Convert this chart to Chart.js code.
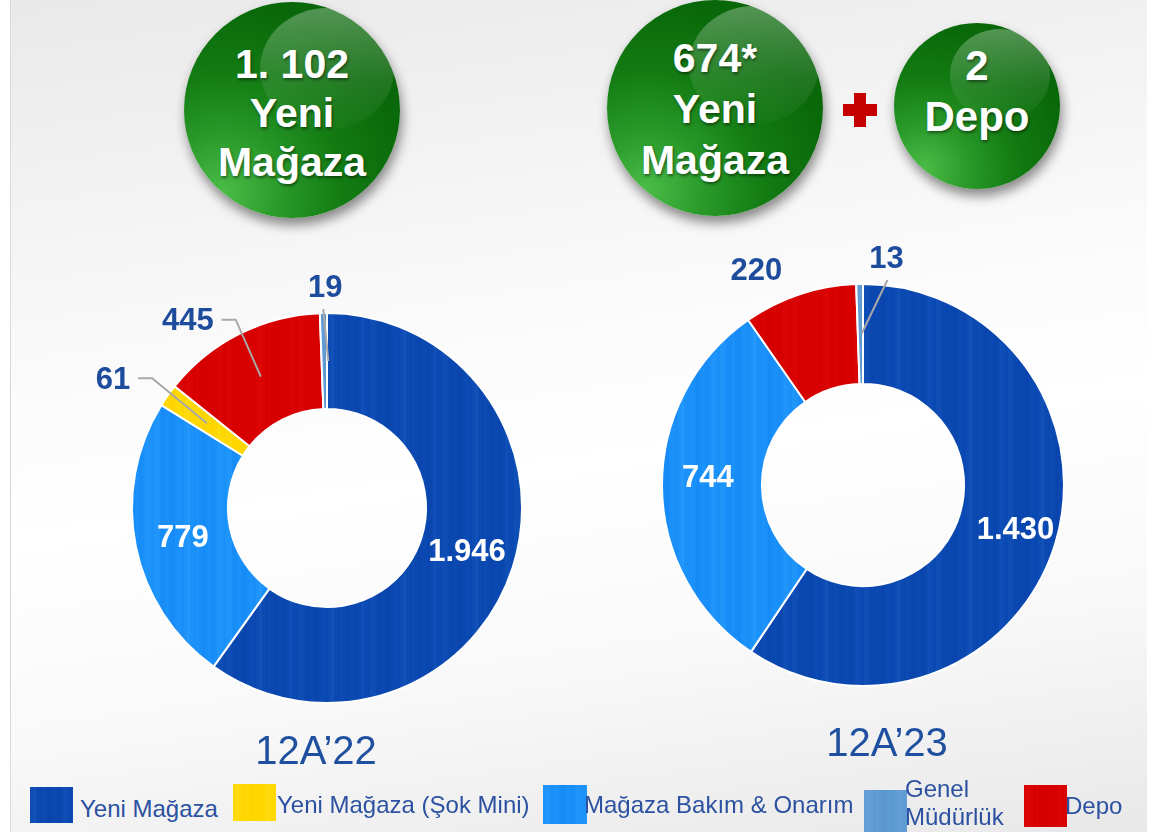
<!DOCTYPE html>
<html lang="tr">
<head>
<meta charset="utf-8">
<title>Yatırımlar 12A'22 - 12A'23</title>
<script src="https://cdn.jsdelivr.net/npm/chart.js@4.4.1/dist/chart.umd.min.js"></script>
<style>
  html, body { margin: 0; padding: 0; background: #fff; }
  body { width: 1158px; height: 832px; position: relative; overflow: hidden;
         font-family: "Liberation Sans", Arial, sans-serif; }
  #slide { position: absolute; left: 10px; top: 0; width: 1136px; height: 832px;
           border-left: 1px solid #d9d9d9;
           background: linear-gradient(172deg, #e9e9e9 0%, #f3f3f3 22%, #fbfbfb 40%, #ffffff 55%, #f9f9f9 75%, #e8e8e8 100%); }
  .bubble { position: absolute; border-radius: 50%;
            background: radial-gradient(circle at 18% 88%, #4cbc48 0%, #2a9a2a 22%, #137c13 45%, #0a6a0a 70%, #085e08 100%);
            box-shadow: 2px 7px 12px rgba(0,0,0,0.45); overflow: hidden; }
  .bubble::before { content: ""; position: absolute; border-radius: 50%;
            left: var(--hl); top: var(--ht); width: var(--hw); height: var(--hh);
            background: linear-gradient(180deg, rgba(255,255,255,0.3) 0%, rgba(255,255,255,0.1) 60%, rgba(255,255,255,0.02) 100%); }
  .bubble .txt { position: absolute; left: 0; right: 0; text-align: center; color: #fff;
            font-weight: bold; font-size: 41px; line-height: 49px;
            text-shadow: 1px 2px 3px rgba(0,0,0,0.45); }
  .plus { position: absolute; background: #c40000; }
  canvas { position: absolute; }
  .period { position: absolute; width: 200px; text-align: center; font-size: 40px;
            color: #1f4f9f; line-height: 46px; }
  .sw { position: absolute; }
  .lt { position: absolute; font-size: 24px; color: #2b51a0; white-space: nowrap; line-height: 28px; }
</style>
</head>
<body>
<div id="slide"></div>

<div class="bubble" style="left:184px;top:2px;width:216px;height:216px;--hl:76px;--ht:6px;--hw:134px;--hh:122px;">
  <div class="txt" style="top:38px;">1. 102<br>Yeni<br>Mağaza</div>
</div>
<div class="bubble" style="left:607px;top:0px;width:216px;height:216px;--hl:82px;--ht:6px;--hw:130px;--hh:118px;">
  <div class="txt" style="top:33px;line-height:51px;">674*<br>Yeni<br>Mağaza</div>
</div>
<div class="plus" style="left:843px;top:104px;width:34px;height:12px;"></div>
<div class="plus" style="left:854px;top:93px;width:12px;height:34px;"></div>
<div class="bubble" style="left:894px;top:23px;width:166px;height:166px;--hl:56px;--ht:6px;--hw:100px;--hh:92px;">
  <div class="txt" style="top:17px;line-height:51px;font-size:42px;">2<br>Depo</div>
</div>

<canvas id="chart22" width="574" height="516" style="left:40px;top:250px;"></canvas>
<canvas id="chart23" width="514" height="500" style="left:606px;top:235px;"></canvas>

<div class="period" id="period22" style="left:216px;top:727px;"></div>
<div class="period" id="period23" style="left:787px;top:719px;"></div>

<div id="legend"></div>

<script>
// data
const categories = ["Yeni Mağaza", "Yeni Mağaza (Şok Mini)", "Mağaza Bakım & Onarım", "Genel Müdürlük", "Depo"];
const periods = ["12A’22", "12A’23"];

// slices in clockwise order from 12 o'clock
const slices22 = ["Yeni Mağaza", "Mağaza Bakım & Onarım", "Yeni Mağaza (Şok Mini)", "Depo", "Genel Müdürlük"];
const values22 = [1946, 779, 61, 445, 19];
const slices23 = ["Yeni Mağaza", "Mağaza Bakım & Onarım", "Depo", "Genel Müdürlük"];
const values23 = [1430, 744, 220, 13];

const colors = {
    "Yeni Mağaza": ["#0b49b2", "#2a6cd0", "#06379a"],
    "Yeni Mağaza (Şok Mini)": ["#ffd800", "#ffe640", "#f2c800"],
    "Mağaza Bakım & Onarım": ["#1a90fa", "#3fb0ff", "#0a78ee"],
    "Genel Müdürlük": ["#5f9bd3", "#80b2e0", "#4f88c2"],
    "Depo": ["#d90000", "#e41a1a", "#c80000"],
};

// turkish thousands separator
function fmt(v) {
    const s = String(v);
    return s.length > 3 ? s.slice(0, s.length - 3) + "." + s.slice(-3) : s;
}

// vertical streaky texture like the slide fills
function streaks(base, light, dark) {
    const c = document.createElement("canvas");
    c.width = 72; c.height = 8;
    const g = c.getContext("2d");
    g.fillStyle = base;
    g.fillRect(0, 0, 72, 8);
    for (let x = 0; x < 72; x += 3) {
        const t = Math.sin(x * 0.61) + Math.sin(x * 0.17 + 1.3);
        g.globalAlpha = Math.min(Math.abs(t) * 0.12, 0.24);
        g.fillStyle = t > 0 ? light : dark;
        g.fillRect(x, 0, 3, 8);
    }
    return g.createPattern(c, "repeat");
}

function fills(names) {
    return names.map(n => streaks(colors[n][0], colors[n][1], colors[n][2]));
}

// where each value label goes, relative to the slice centre
const place22 = [
    { inside: true, dx: 0, dy: 0 },
    { inside: true, dx: 0, dy: 2 },
    { dx: -94, dy: -43, line: "elbow" },
    { dx: -73, dy: -55, line: "elbow" },
    { dx: 1, dy: -73, line: "straight", lx: -2, ex: 4 },
];
const place23 = [
    { inside: true, dx: 8, dy: 1 },
    { inside: true, dx: -4, dy: -8 },
    { dx: -59, dy: -70 },
    { dx: 26, dy: -75, line: "straight", lx: 1, ex: 1 },
];

const sliceLabels = {
    id: "sliceLabels",
    afterDatasetsDraw(chart, args, opts) {
        const ctx = chart.ctx;
        const meta = chart.getDatasetMeta(0);
        const data = chart.data.datasets[0].data;
        meta.data.forEach((arc, i) => {
            const p = opts.place[i];
            const mid = arc.tooltipPosition();
            const x = mid.x + p.dx;
            const y = mid.y + p.dy;
            const txt = fmt(data[i]);
            ctx.save();
            ctx.font = "bold 31px 'Liberation Sans', Arial, sans-serif";
            const w = ctx.measureText(txt).width;
            ctx.strokeStyle = "#a8a8a8";
            ctx.lineWidth = 2;
            if (p.line === "elbow") {
                const r = x + w / 2;
                ctx.beginPath();
                ctx.moveTo(r + 8, y - 2);
                ctx.lineTo(r + 22, y - 2);
                ctx.lineTo(mid.x, mid.y);
                ctx.stroke();
            } else if (p.line === "straight") {
                ctx.beginPath();
                ctx.moveTo(x + p.lx, y + 21);
                ctx.lineTo(mid.x + p.ex, mid.y);
                ctx.stroke();
            }
            ctx.fillStyle = p.inside ? "#ffffff" : "#1d4c9c";
            ctx.textAlign = "center";
            ctx.textBaseline = "middle";
            ctx.fillText(txt, x, y);
            ctx.restore();
        });
    }
};

function donut(id, names, values, outer, hole, place) {
    return new Chart(document.getElementById(id), {
        type: "doughnut",
        data: {
            labels: names,
            datasets: [{
                data: values,
                backgroundColor: fills(names),
                borderColor: "#ffffff",
                borderWidth: 2,
            }],
        },
        options: {
            responsive: false,
            animation: false,
            radius: outer,
            cutout: hole,
            layout: { padding: 0 },
            plugins: {
                legend: { display: false },
                tooltip: { enabled: false },
                sliceLabels: { place: place },
            },
        },
        plugins: [sliceLabels],
    });
}

donut("chart22", slices22, values22, 195, "50.8%", place22);
donut("chart23", slices23, values23, 201, "50.3%", place23);

document.getElementById("period22").textContent = periods[0];
document.getElementById("period23").textContent = periods[1];

// legend under the charts
const legendPos = [
    { sx: 30, sy: 787, sw: 43, sh: 36, tx: 80, ty: 795 },
    { sx: 233, sy: 784, sw: 43, sh: 37, tx: 277, ty: 791 },
    { sx: 543, sy: 785, sw: 44, sh: 39, tx: 584, ty: 791 },
    { sx: 864, sy: 790, sw: 43, sh: 42, tx: 905, ty: 775 },
    { sx: 1024, sy: 785, sw: 43, sh: 42, tx: 1065, ty: 792 },
];
const legend = document.getElementById("legend");
categories.forEach((name, i) => {
    const p = legendPos[i];
    const sw = document.createElement("canvas");
    sw.className = "sw";
    sw.width = p.sw; sw.height = p.sh;
    sw.style.left = p.sx + "px"; sw.style.top = p.sy + "px";
    const g = sw.getContext("2d");
    g.fillStyle = streaks(colors[name][0], colors[name][1], colors[name][2]);
    g.fillRect(0, 0, p.sw, p.sh);
    legend.appendChild(sw);
    const t = document.createElement("div");
    t.className = "lt";
    t.style.left = p.tx + "px"; t.style.top = p.ty + "px";
    t.innerHTML = name === "Genel Müdürlük" ? "Genel<br>Müdürlük" : name;
    legend.appendChild(t);
});
</script>
</body>
</html>
